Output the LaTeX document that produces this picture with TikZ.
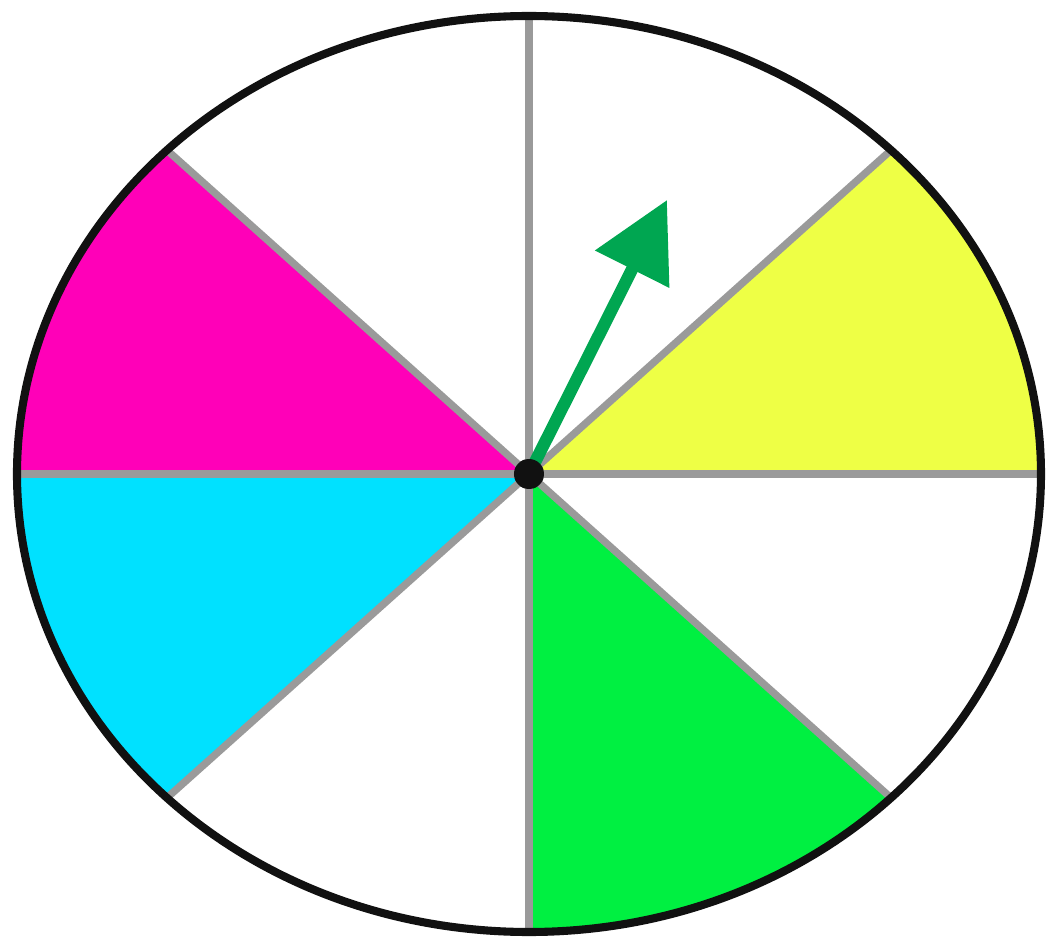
\documentclass[tikz,border=0pt]{standalone}
\usepackage{tikz}
\usetikzlibrary{arrows.meta}
\definecolor{rim}{HTML}{111111}
\definecolor{spoke}{HTML}{9A9A9A}
\definecolor{magentaw}{HTML}{FF00B8}
\definecolor{cyanw}{HTML}{00E1FF}
\definecolor{yelloww}{HTML}{EEFF45}
\definecolor{greenw}{HTML}{00F041}
\definecolor{needle}{HTML}{00A651}

\begin{document}
\begin{tikzpicture}[
        wedge/.style={draw=none},
        sp/.style={spoke,line width=4.2pt},
        hub/.style={circle,fill=rim,inner sep=0pt,minimum size=0.6cm},
        arr/.style={needle,line width=7pt,-{Triangle[length=1.55cm,width=1.6cm]}}]
        \useasboundingbox (-10.58,-9.28) rectangle (10.34,9.48);
        \def\rx{10.24}\def\ry{9.16}
        % coloured sectors
        \foreach \a/\c in {0/yelloww,135/magentaw,180/cyanw,270/greenw}
          \fill[wedge,\c] (0,0) -- (\a:\rx cm and \ry cm)
            arc[start angle=\a,end angle=\a+45,x radius=\rx cm,y radius=\ry cm] -- cycle;
        \node[hub] (c) at (0,0) {};
        \foreach \a in {0,45,...,315}
          \coordinate (r\a) at (\a:\rx cm and \ry cm);
        \foreach \a in {0,45,...,315}
          \draw[sp] (c.center) -- (r\a);
        \draw[rim,line width=4.6pt] (0,0) ellipse[x radius=\rx cm,y radius=\ry cm];
        \coordinate (tip) at (2.76,5.48);
        \draw[arr] (c.center) -- (tip);
        \node[hub] at (c) {};
      \end{tikzpicture}
\end{document}
